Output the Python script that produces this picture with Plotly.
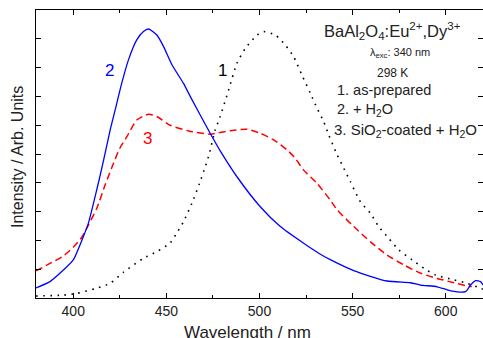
import plotly.graph_objects as go

# Curve 2 (+ H2O), blue solid
wl_2 = [380, 387.5, 394.7, 400, 405.4, 408.1, 412.6, 416, 419.8, 422.5, 426, 429.6, 434.1, 437.7,
        440.4, 444.9, 448.5, 453, 459.2, 462.8, 473.5, 479, 487.9, 500.4, 511.2, 523.7, 532.7, 538,
        550.6, 568.5, 581, 586.5, 595.4, 602.6, 610.6, 613.3, 616, 618.7, 620]
int_2 = [0.35, 0.57, 0.97, 1.32, 2.13, 2.59, 3.75, 4.7, 5.83, 6.53, 7.45, 8.26, 8.96, 9.25,
         9.34, 9.13, 8.73, 8.1, 7.45, 7.0, 5.72, 5.1, 4.21, 3.17, 2.48, 1.90, 1.52, 1.33,
         0.95, 0.59, 0.53, 0.45, 0.39, 0.25, 0.22, 0.45, 0.60, 0.57, 0.45]

# Curve 3 (SiO2-coated + H2O), red dashed
wl_3 = [380, 387.5, 394.7, 400, 404.6, 408.1, 412.6, 417.1, 421.6, 425, 428.8, 434.1, 440.4, 444.9,
        452, 462, 473.5, 484.3, 493.3, 500.4, 507.6, 514.8, 519.2, 523.7, 530.9, 538, 541.7, 550.6,
        559.6, 568.5, 577.5, 586.5, 595.4, 604.4, 611.5, 614]
int_3 = [0.94, 1.20, 1.46, 1.76, 2.11, 2.53, 3.11, 3.92, 4.68, 5.2, 5.60, 6.18, 6.38, 6.30,
         6.0, 5.8, 5.69, 5.81, 5.86, 5.72, 5.49, 5.14, 4.85, 4.44, 3.98, 3.40, 3.06, 2.48,
         1.95, 1.49, 1.15, 0.86, 0.68, 0.53, 0.42, 0.40]

# Curve 1 (as-prepared), black dotted
wl_1 = [380, 394.7, 401.9, 412.6, 419.8, 426.9, 437.7, 444.9, 452, 456, 459.2, 463.7, 467.8, 470.9,
        473, 476.2, 478.9, 483.4, 487.9, 492.4, 498.7, 502.3, 508.5, 513.9, 518.3, 522.8, 527.3,
        530.9, 534.5, 537.2, 541.7, 545.3, 548.8, 554.2, 559.6, 564, 569.4, 574.8, 582, 588.3,
        594.5, 604.4, 611.5, 618.7, 620]
int_1 = [0.07, 0.10, 0.16, 0.34, 0.51, 0.89, 1.38, 1.61, 1.91, 2.3, 2.65, 3.29, 3.98, 4.56,
         5.0, 5.83, 6.30, 7.22, 8.15, 8.67, 9.13, 9.25, 9.13, 8.78, 8.38, 7.74, 7.11,
         6.59, 6.12, 5.66, 4.97, 4.50, 4.04, 3.34, 2.94, 2.48, 2.07, 1.67, 1.32, 1.03,
         0.80, 0.63, 0.51, 0.34, 0.3]

x_ticks = [400, 450, 500, 550, 600]

FONT = "Liberation Sans, Arial, sans-serif"
TXT = "#222222"

fig = go.Figure()
fig.add_trace(go.Scatter(x=wl_1, y=int_1, mode="lines", line=dict(color="black", width=1.6, dash="1.6px,5.5px", shape="spline", smoothing=0.6)))
fig.add_trace(go.Scatter(x=wl_3, y=int_3, mode="lines", line=dict(color="#ff0000", width=1.5, dash="7px,4px", shape="spline", smoothing=0.6)))
fig.add_trace(go.Scatter(x=wl_2, y=int_2, mode="lines", line=dict(color="#0000ff", width=1.3, shape="spline", smoothing=0.6)))

fig.update_layout(
    template="none",
    width=483, height=338,
    margin=dict(l=36, r=0, t=10, b=40, autoexpand=False),
    paper_bgcolor="white", plot_bgcolor="white",
    showlegend=False,
    font=dict(family=FONT, color=TXT),
    xaxis=dict(range=[380, 620], tickvals=x_ticks, ticks="inside", ticklen=5, tickcolor="black",
               showline=True, linecolor="black", linewidth=1.2, mirror="ticks", showgrid=False, zeroline=False,
               automargin=False, tickfont=dict(size=14, family=FONT, color=TXT),
               minor=dict(dtick=25, tick0=375, ticks="inside", ticklen=3, tickcolor="black", showgrid=False)),
    yaxis=dict(range=[0, 10], dtick=1, ticks="inside", ticklen=5, tickcolor="black", showticklabels=False,
               showline=True, linecolor="black", linewidth=1.2, mirror="ticks", showgrid=False, zeroline=False,
               automargin=False),
)

# Convert pixel coords to paper: plot area 36..483 x, 10..298 y
def px(xp):
    return (xp - 36) / (483 - 36)

def py(yp):
    return (298 - yp) / (298 - 10)

labels = [
    (109, 70, "2", "#0000ff", 17),
    (147, 138, "3", "#ff0000", 17),
    (222, 70, "1", "black", 17),
]
for xp, yp, t, c, s in labels:
    fig.add_annotation(x=px(xp), y=py(yp), xref="paper", yref="paper", text=t, showarrow=False,
                       font=dict(size=s, color=c, family=FONT), xanchor="center", yanchor="middle")

texts = [
    (392, 31, "BaAl<sub>2</sub>O<sub>4</sub>:Eu<sup>2+</sup>,Dy<sup>3+</sup>", 16.5, "center"),
    (400, 53, "λ<sub>exc</sub>: 340 nm", 11, "center"),
    (392, 73, "298 K", 12, "center"),
    (335, 90, "1. as-prepared", 14.5, "left"),
    (335, 110, "2. + H<sub>2</sub>O", 14.5, "left"),
    (332, 130, "3. SiO<sub>2</sub>-coated + H<sub>2</sub>O", 15, "left"),
]
for xp, yp, t, s, anc in texts:
    fig.add_annotation(x=px(xp), y=py(yp), xref="paper", yref="paper", text=t, showarrow=False,
                       font=dict(size=s, color=TXT, family=FONT), xanchor=anc, yanchor="middle")

# Axis titles
fig.add_annotation(x=px(247), y=py(332), xref="paper", yref="paper", text="Wavelength / nm", showarrow=False,
                   font=dict(size=17, color=TXT, family=FONT), xanchor="center", yanchor="middle")
fig.add_annotation(x=px(17), y=py(157), xref="paper", yref="paper", text="Intensity / Arb. Units", showarrow=False,
                   textangle=-90, font=dict(size=16, color=TXT, family=FONT), xanchor="center", yanchor="middle")

fig.write_html("out.html", config={"displayModeBar": False},
               post_script="document.body.style.margin='0';document.body.style.overflow='hidden';")
